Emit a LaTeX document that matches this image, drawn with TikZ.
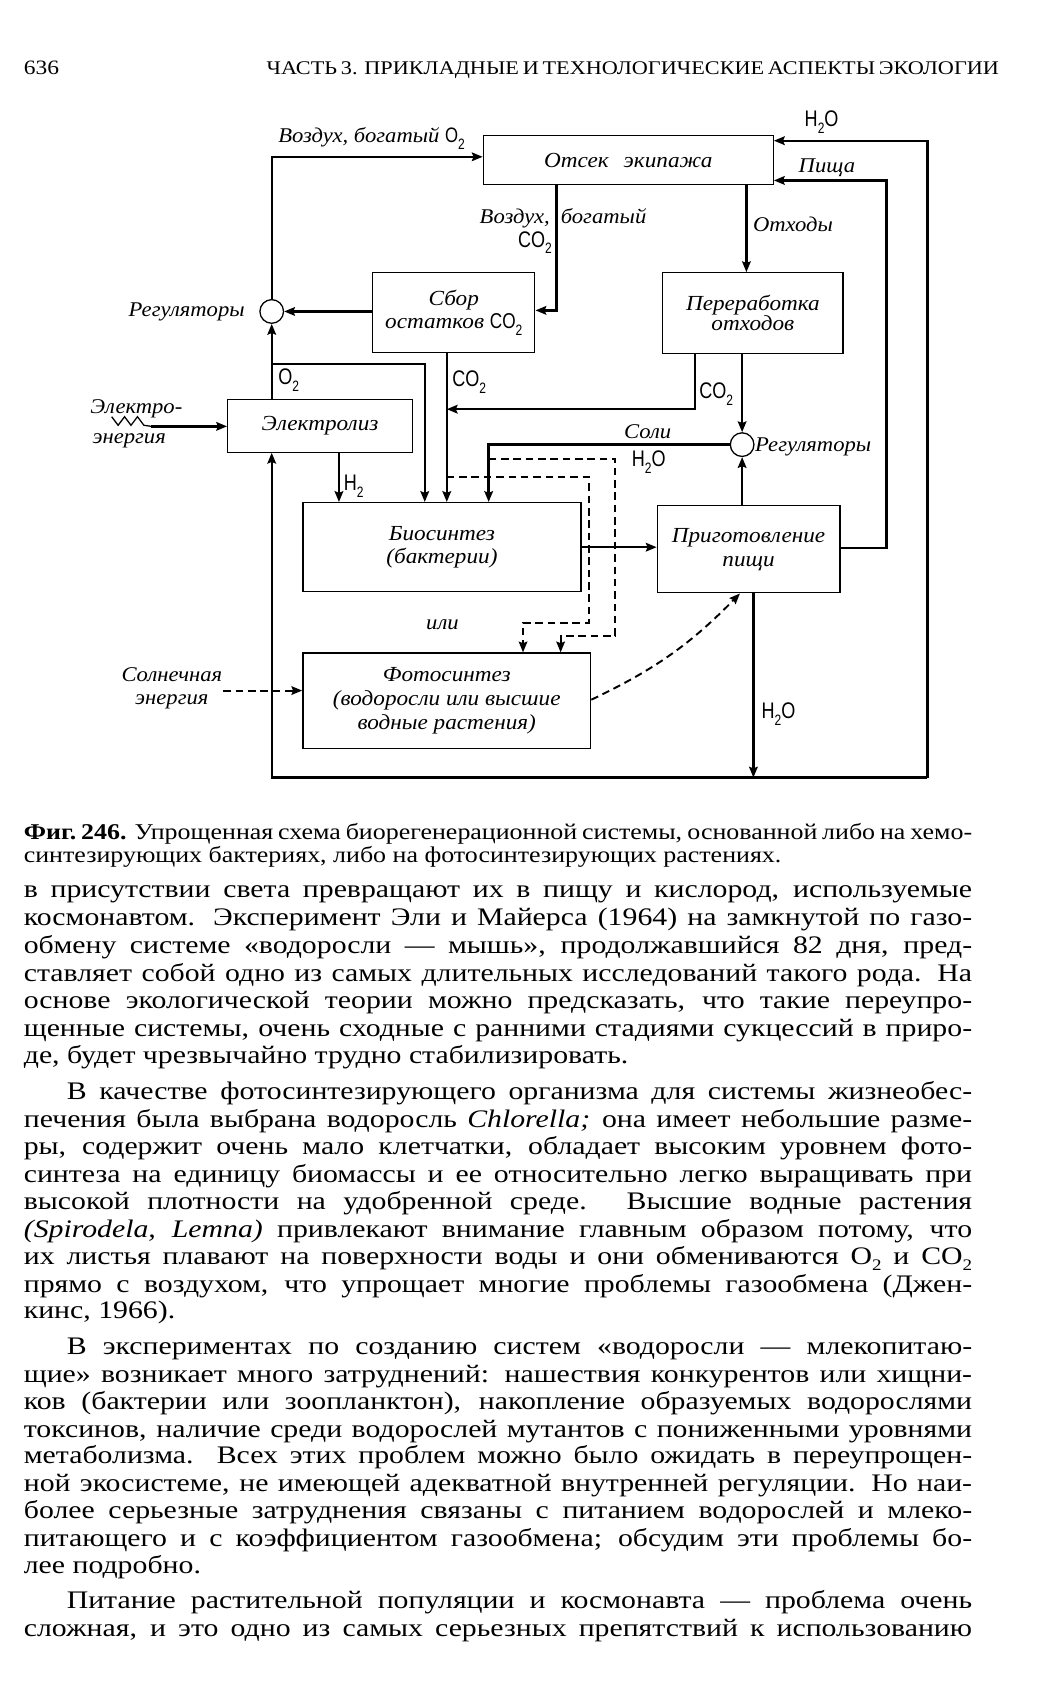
\documentclass[tikz,border=0pt]{standalone}
\usepackage{fontspec}
\setmainfont{Liberation Serif}
\newfontfamily\bodyfont{Liberation Serif}[FakeStretch=1.18]
\newfontfamily\capfont{Liberation Serif}[FakeStretch=1.15]
\newfontfamily\lblfont{Liberation Serif}[FakeStretch=1.08]
\newfontfamily\chemfont{Liberation Sans}[FakeStretch=0.8]
\usetikzlibrary{arrows.meta}
\newcommand\chem[2]{{\chemfont\upshape #1\raisebox{-0.3em}{\fontsize{14}{14}\selectfont #2}}}
\newcommand\water{{\chemfont\upshape H\raisebox{-0.3em}{\fontsize{14}{14}\selectfont 2}O}}
\newcommand\bsub[1]{\raisebox{-0.25em}{\fontsize{15}{15}\selectfont #1}}
\begin{document}
\begin{tikzpicture}[x=1pt,y=-1pt,
  box/.style={draw, line width=1.2pt, inner sep=0pt, align=center,
    font=\lblfont\itshape\fontsize{20}{22}\selectfont},
  reg/.style={circle, draw, line width=1.2pt, minimum size=22pt, inner sep=0pt},
  conn/.style={line width=2.2pt, -{Stealth[length=10pt,width=8pt,inset=1.5pt]}},
  dconn/.style={line width=1.8pt, dash pattern=on 7pt off 4.5pt, -{Stealth[length=10pt,width=8pt,inset=1.5pt]}},
  lbl/.style={inner sep=0pt, font=\lblfont\itshape\fontsize{19.5}{21}\selectfont},
  chm/.style={inner sep=0pt, font=\chemfont\fontsize{21}{22}\selectfont},
  body/.style={inner sep=0pt, anchor=base west, font=\bodyfont\fontsize{23.5}{27}\selectfont},
  capt/.style={inner sep=0pt, anchor=base west, font=\capfont\fontsize{21}{22}\selectfont}
]
\useasboundingbox (0,0) rectangle (966,1568);
\fill[white] (0,0) rectangle (966,1568);

% header
\node[capt, font=\capfont\fontsize{19}{20}\selectfont] (pg) at (22,69) {636};
\node[capt, font=\capfont\fontsize{18}{20}\selectfont] (hd) at (248,69) {\makebox[682pt][s]{ЧАСТЬ 3. ПРИКЛАДНЫЕ И ТЕХНОЛОГИЧЕСКИЕ АСПЕКТЫ ЭКОЛОГИИ}};

% boxes
\node[box, minimum width=270pt, minimum height=46pt] (otsek) at (585,149) {Отсек\hspace{0.7em}экипажа};
\node[box, minimum width=151pt, minimum height=74pt] (sbor) at (422.5,291) {Сбор\\остатков \chem{CO}{2}};
\node[box, minimum width=168pt, minimum height=75pt, font=\lblfont\itshape\fontsize{20}{18}\selectfont] (pererab) at (701,291.5) {Переработка\\отходов};
\node[box, minimum width=172pt, minimum height=49pt] (elektro) at (298,396.5) {Электролиз};
\node[box, minimum width=259pt, minimum height=83pt] (bio) at (411.5,509.5) {Биосинтез\\(бактерии)};
\node[box, minimum width=170pt, minimum height=81pt] (prig) at (697,511.5) {Приготовление\\пищи};
\node[box, minimum width=268pt, minimum height=89pt] (foto) at (416,652.5) {Фотосинтез\\(водоросли или высшие\\водные растения)};
\node[reg] (regL) at (253,290) {};
\node[reg] (regR) at (691,414) {};

% coordinates
\coordinate (bl) at (253,724);
\coordinate (br) at (863.5,724);
\coordinate (o2b) at (253,339);
\coordinate (co2j) at (416,381);
\coordinate (zz) at (141,397);
\coordinate (sun) at (208,643);
\coordinate (d1) at (416,444);
\coordinate (d2) at (455,427);

% connectors
\draw[conn] (regL.north) |- (otsek.west |- 0,146);
\draw[conn] (br) |- (otsek.east |- 0,131);
\draw[conn] (br) -- (bl) -- (bl |- elektro.south);
\draw[conn] (prig.east |- 0,510) -- (825.5,510) -- (825.5,168) -- (otsek.east |- 0,168);
\draw[conn] (otsek.south -| 518,0) |- (sbor.east |- 0,289);
\draw[conn] (otsek.south -| 695,0) -- (pererab.north -| 695,0);
\draw[conn] (sbor.west |- regL) -- (regL.east);
\draw[conn] (elektro.north -| regL) -- (regL.south);
\draw[conn] (o2b) -| (bio.north -| 395.5,0);
\draw[conn] (sbor.south -| 416,0) -- (bio.north -| 416,0);
\draw[conn] (pererab.south -| 647,0) |- (co2j);
\draw[conn] (pererab.south -| regR) -- (regR.north);
\draw[conn] (prig.north -| regR) -- (regR.south);
\draw[conn] (regR.west) -| (bio.north -| 455,0);
\draw[line width=1.2pt] (104,388) -- (110,396) -- (116,388) -- (122,396) -- (128,388) -- (134,396) -- (zz);
\draw[conn] (zz) -- (elektro.west |- zz);
\draw[conn] (elektro.south -| 315.6,0) -- (bio.north -| 315.6,0);
\draw[conn] (bio.east |- 0,509.5) -- (prig.west |- 0,509.5);
\draw[conn] (prig.south -| 701.5,0) -- (bl -| 701.5,0);

% dashed
\draw[dconn] (d1) -- (548,444) -- (548,580) -- (487,580) -- (foto.north -| 487,0);
\draw[dconn] (d2) -- (573,427) -- (573,592) -- (522,592) -- (foto.north -| 522,0);
\draw[dconn] (sun) -- (foto.west |- sun);
\draw[dconn] (foto.east |- 0,651.5) to[bend right=10] (prig.south -| 689,0);

% labels
\node[lbl, anchor=base east] (t1) at (433,133) {Воздух, богатый \chem{O}{2}};
\node[chm] (t2) at (765,114) {\water};
\node[lbl] (t3) at (770,156) {Пища};
\node[lbl, anchor=base east] (t4) at (512,208) {Воздух,};
\node[lbl, anchor=base west] (t5) at (522,208) {богатый};
\node[chm, anchor=base east] (t6) at (514,230) {\chem{CO}{2}};
\node[lbl, anchor=base west] (t7) at (701,216) {Отходы};
\node[lbl, anchor=base east] (t8) at (228,295) {Регуляторы};
\node[chm, anchor=base west] (t9) at (259,358) {\chem{O}{2}};
\node[chm, anchor=base west] (t10) at (421,360) {\chem{CO}{2}};
\node[chm, anchor=base west] (t11) at (651,371) {\chem{CO}{2}};
\node[lbl] (t12) at (603,402) {Соли};
\node[chm] (t13) at (604,430) {\water};
\node[lbl, anchor=base west] (t14) at (703,420) {Регуляторы};
\node[lbl, anchor=base west] (t15) at (84,385) {Электро-};
\node[lbl, anchor=base west] (t16) at (86,413) {энергия};
\node[chm, anchor=base west] (t17) at (320,457) {\chem{H}{2}};
\node[lbl] (t18) at (412,582) {или};
\node[lbl, align=center] (t19) at (160,641) {Солнечная\\энергия};
\node[chm, anchor=base west] (t20) at (709,669) {\water};

% caption
\node[capt] (c1) at (22,782) {\makebox[883pt][s]{\textbf{Фиг.~246.} Упрощенная схема биорегенерационной системы, основанной либо на хемо-}};
\node[capt] (c2) at (22,803) {синтезирующих бактериях, либо на фотосинтезирующих растениях.};

% body text
\node[body] (b1) at (22,836) {\makebox[883pt][s]{в присутствии света превращают их в пищу и кислород, используемые}};
\node[body] (b2) at (22,862) {\makebox[883pt][s]{космонавтом. Эксперимент Эли и Майерса (1964) на замкнутой по газо-}};
\node[body] (b3) at (22,888) {\makebox[883pt][s]{обмену системе «водоросли — мышь», продолжавшийся 82 дня, пред-}};
\node[body] (b4) at (22,914) {\makebox[883pt][s]{ставляет собой одно из самых длительных исследований такого рода. На}};
\node[body] (b5) at (22,939) {\makebox[883pt][s]{основе экологической теории можно предсказать, что такие переупро-}};
\node[body] (b6) at (22,965) {\makebox[883pt][s]{щенные системы, очень сходные с ранними стадиями сукцессий в приро-}};
\node[body] (b7) at (22,990) {де, будет чрезвычайно трудно стабилизировать.};

\node[body] (b8) at (62,1024) {\makebox[843pt][s]{В качестве фотосинтезирующего организма для системы жизнеобес-}};
\node[body] (b9) at (22,1050) {\makebox[883pt][s]{печения была выбрана водоросль \textit{Chlorella;} она имеет небольшие разме-}};
\node[body] (b10) at (22,1075) {\makebox[883pt][s]{ры, содержит очень мало клетчатки, обладает высоким уровнем фото-}};
\node[body] (b11) at (22,1101) {\makebox[883pt][s]{синтеза на единицу биомассы и ее относительно легко выращивать при}};
\node[body] (b12) at (22,1126) {\makebox[883pt][s]{высокой плотности на удобренной среде. Высшие водные растения}};
\node[body] (b13) at (22,1152) {\makebox[883pt][s]{\textit{(Spirodela, Lemna)} привлекают внимание главным образом потому, что}};
\node[body] (b14) at (22,1177) {\makebox[883pt][s]{их листья плавают на поверхности воды и они обмениваются O\bsub{2} и CO\bsub{2}}};
\node[body] (b15) at (22,1203) {\makebox[883pt][s]{прямо с воздухом, что упрощает многие проблемы газообмена (Джен-}};
\node[body] (b16) at (22,1228) {кинс, 1966).};

\node[body] (b17) at (62,1261) {\makebox[843pt][s]{В экспериментах по созданию систем «водоросли — млекопитаю-}};
\node[body] (b18) at (22,1287) {\makebox[883pt][s]{щие» возникает много затруднений: нашествия конкурентов или хищни-}};
\node[body] (b19) at (22,1312) {\makebox[883pt][s]{ков (бактерии или зоопланктон), накопление образуемых водорослями}};
\node[body] (b20) at (22,1338) {\makebox[883pt][s]{токсинов, наличие среди водорослей мутантов с пониженными уровнями}};
\node[body] (b21) at (22,1363) {\makebox[883pt][s]{метаболизма. Всех этих проблем можно было ожидать в переупрощен-}};
\node[body] (b22) at (22,1389) {\makebox[883pt][s]{ной экосистеме, не имеющей адекватной внутренней регуляции. Но наи-}};
\node[body] (b23) at (22,1414) {\makebox[883pt][s]{более серьезные затруднения связаны с питанием водорослей и млеко-}};
\node[body] (b24) at (22,1440) {\makebox[883pt][s]{питающего и с коэффициентом газообмена; обсудим эти проблемы бо-}};
\node[body] (b25) at (22,1465) {лее подробно.};

\node[body] (b26) at (62,1498) {\makebox[843pt][s]{Питание растительной популяции и космонавта — проблема очень}};
\node[body] (b27) at (22,1524) {\makebox[883pt][s]{сложная, и это одно из самых серьезных препятствий к использованию}};
\end{tikzpicture}
\end{document}
